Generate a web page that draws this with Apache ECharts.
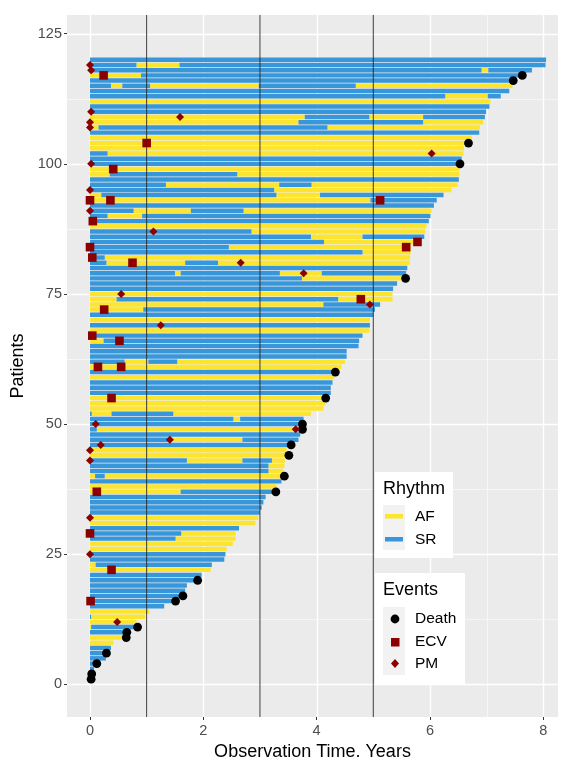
<!DOCTYPE html>
<html><head><meta charset="utf-8">
<script src="https://cdn.jsdelivr.net/npm/echarts@6/dist/echarts.min.js"></script>
<style>html,body{margin:0;padding:0;background:#fff}#c{width:565px;height:758px}</style>
</head><body><div id="c"></div>
<script>
// ---------- data ----------
const patientIds = [1,2,3,4,5,6,7,8,9,10,11,12,13,14,15,16,17,18,19,20,
 21,22,23,24,25,26,27,28,29,30,31,32,33,34,35,36,37,38,39,40,
 41,42,43,44,45,46,47,48,49,50,51,52,53,54,55,56,57,58,59,60,
 61,62,63,64,65,66,67,68,69,70,71,72,73,74,75,76,77,78,79,80,
 81,82,83,84,85,86,87,88,89,90,91,92,93,94,95,96,97,98,99,100,
 101,102,103,104,105,106,107,108,109,110,111,112,113,114,115,116,117,118,119,120];

const followUpYears = [0.03,0.04,0.07,0.12,0.28,0.29,0.37,0.41,0.64,0.65,
 0.82,0.82,0.97,1.05,1.31,1.50,1.63,1.68,1.71,1.90,
 1.97,2.13,2.15,2.37,2.39,2.41,2.52,2.57,2.57,2.63,
 2.92,2.97,3.00,3.03,3.06,3.10,3.22,3.29,3.38,3.41,
 3.41,3.43,3.44,3.46,3.47,3.52,3.68,3.71,3.72,3.74,
 3.77,3.90,4.12,4.15,4.15,4.25,4.25,4.28,4.31,4.33,
 4.44,4.50,4.53,4.53,4.74,4.75,4.81,4.93,4.94,4.94,
 5.00,5.03,5.12,5.34,5.34,5.35,5.42,5.52,5.58,5.60,
 5.64,5.65,5.66,5.66,5.82,5.90,5.92,5.94,5.98,6.01,
 6.03,6.07,6.12,6.24,6.38,6.49,6.51,6.52,6.52,6.50,
 6.56,6.59,6.60,6.66,6.74,6.87,6.88,6.94,6.97,6.99,
 7.05,7.07,7.25,7.40,7.46,7.44,7.59,7.80,8.04,8.05];

// rhythm at start of follow-up, then the times (years) at which it switches
const startRhythm = ['SR','SR','SR','SR','SR','SR','SR','AF','AF','SR',
 'AF','AF','SR','AF','SR','SR','SR','SR','SR','SR',
 'SR','AF','AF','SR','SR','AF','AF','SR','SR','SR',
 'AF','AF','SR','SR','SR','SR','AF','AF','SR','AF',
 'SR','SR','SR','AF','AF','SR','SR','SR','SR','SR',
 'SR','SR','AF','AF','AF','SR','SR','SR','AF','SR',
 'AF','SR','SR','SR','SR','AF','SR','AF','SR','AF',
 'SR','AF','AF','AF','AF','SR','SR','SR','SR','SR',
 'SR','SR','SR','SR','SR','SR','SR','AF','SR','SR',
 'SR','SR','AF','AF','SR','SR','SR','AF','AF','SR',
 'SR','SR','AF','AF','AF','SR','AF','AF','AF','SR',
 'SR','AF','SR','SR','SR','SR','AF','SR','SR','SR'];

const switchYears = [[],[],[],[],[],[],[],[],[],[],
 [0.02],[],[0.02],[],[],[],[],[],[],[],
 [],[],[0.10],[],[],[],[],[1.51],[1.61],[],
 [],[],[],[],[],[],[1.60],[],[],[0.09,0.26],
 [3.15],[3.15],[1.71,2.69,3.21],[],[],[],[1.41,2.69],[],[0.12],[],
 [2.53,2.65],[0.03,0.38,1.47],[],[],[],[],[],[],[],[],
 [],[0.61,1.03,1.54],[],[],[],[0.24],[],[],[],[],
 [],[0.94],[4.12],[0.47,4.38],[],[],[],[3.74],[1.50,1.60,3.35,4.09],[],
 [0.29,1.68,2.26],[0.26],[4.81],[2.45],[4.13],[3.90,4.81],[2.85],[],[],[0.31,0.92],
 [0.77,1.78,2.71],[],[4.95],[0.20,3.29,4.06],[3.25],[1.34,3.34,3.91],[],[0.35,2.60],[],[],
 [],[0.31],[],[],[],[],[0.15,4.19],[3.68,5.88],[3.79,4.93,5.88],[],
 [],[],[6.27,7.02],[],[0.37,0.57,1.06,2.98,4.69],[],[0.90],[6.91,7.03],[0.82,1.58],[]];

const deathPatient = [1,2,4,6,9,10,11,16,17,20,37,40,44,46,49,50,55,60,78,100,104,116,117];
const deathYears   = [0.02,0.03,0.12,0.29,0.64,0.65,0.84,1.51,1.64,1.90,3.28,3.43,3.51,3.55,3.75,3.75,4.16,4.33,5.57,6.53,6.68,7.47,7.63];

const ecvPatient = [16,22,29,37,55,61,61,66,67,72,74,81,82,84,84,85,89,93,93,93,99,104,117];
const ecvYears   = [0.01,0.38,0.00,0.12,0.38,0.14,0.55,0.52,0.04,0.25,4.78,0.75,0.04,0.00,5.58,5.78,0.05,0.00,0.36,5.12,0.41,1.00,0.24];

const pmPatient = [12,25,32,43,45,46,47,49,50,69,73,75,79,81,87,91,95,100,102,107,108,109,110,118,119];
const pmYears   = [0.48,0.00,0.00,0.00,0.00,0.19,1.41,3.63,0.10,1.25,4.94,0.55,3.77,2.66,1.12,0.00,0.00,0.02,6.03,0.00,0.00,1.59,0.02,0.02,0.00];

const xTicks = [0,2,4,6,8];
const xMinorTicks = [1,3,5,7];
const yTicks = [0,25,50,75,100,125];
const yMinorTicks = [12.5,37.5,62.5,87.5,112.5];
const refLineYears = [1,3,5];

// ---------- styles ----------
const FONT = "'Liberation Sans', Arial, sans-serif";
const AF_COL = '#FDE52F';
const SR_COL = '#3896DA';
const EVT_RED = '#8B0000';

// build rhythm segments from the arrays
const afSegments = [], srSegments = [];
patientIds.forEach((p, i) => {
  let state = startRhythm[i];
  let t0 = 0;
  switchYears[i].concat([followUpYears[i]]).forEach(t => {
    (state === 'AF' ? afSegments : srSegments).push([p, t0, t]);
    t0 = t;
    state = state === 'AF' ? 'SR' : 'AF';
  });
});

const gridData = [];
xTicks.forEach(v => gridData.push([v, 0, 1]));
xMinorTicks.forEach(v => gridData.push([v, 0, 0]));
yTicks.forEach(v => gridData.push([v, 1, 1]));
yMinorTicks.forEach(v => gridData.push([v, 1, 0]));

function barItem(params, api) {
  const p = api.value(0), s = api.value(1), e = api.value(2);
  const a = api.coord([s, p]), b = api.coord([e, p]);
  const h = api.size([0, 0.86])[1];
  return {
    type: 'rect',
    shape: { x: a[0], y: a[1] - h / 2, width: Math.max(b[0] - a[0], 0.6), height: h },
    style: { fill: api.visual('color') }
  };
}
function gridItem(params, api) {
  const v = api.value(0), ax = api.value(1), major = api.value(2);
  const cs = params.coordSys;
  let shape;
  if (ax === 0) {
    const x = Math.round(api.coord([v, 0])[0]) + 0.5;
    shape = { x1: x, y1: cs.y, x2: x, y2: cs.y + cs.height };
  } else {
    const y = Math.round(api.coord([0, v])[1]) + 0.5;
    shape = { x1: cs.x, y1: y, x2: cs.x + cs.width, y2: y };
  }
  return { type: 'line', silent: true, shape, style: { stroke: major ? '#FFFFFF' : '#F7F7F7', lineWidth: major ? 1.4 : 0.9 } };
}
function refItem(params, api) {
  const cs = params.coordSys;
  const x = api.coord([api.value(0), 0])[0];
  return { type: 'line', shape: { x1: x, y1: cs.y, x2: x, y2: cs.y + cs.height }, style: { stroke: '#262626', lineWidth: 0.9 } };
}

const chart = echarts.init(document.getElementById('c'), null, { renderer: 'canvas' });
chart.setOption({
  animation: false,
  backgroundColor: '#FFFFFF',
  textStyle: { fontFamily: FONT },
  grid: { left: 67, right: 7, top: 15, bottom: 41, show: true, backgroundColor: '#EBEBEB', borderWidth: 0, containLabel: false, outerBoundsMode: 'none' },
  xAxis: {
    type: 'value', min: -0.406, max: 8.26,
    axisLine: { show: false, onZero: false },
    axisTick: { show: true, customValues: xTicks, length: 3, lineStyle: { color: '#333333', width: 1 } },
    axisLabel: { customValues: xTicks, color: '#4D4D4D', fontSize: 14.5, margin: 6, fontFamily: FONT },
    splitLine: { show: false },
    name: 'Observation Time. Years', nameLocation: 'middle', nameGap: 23,
    nameTextStyle: { fontSize: 18, color: '#000000', fontFamily: FONT }
  },
  yAxis: {
    type: 'value', min: -6.27, max: 128.6,
    axisLine: { show: false, onZero: false },
    axisTick: { show: true, customValues: yTicks, length: 3, lineStyle: { color: '#333333', width: 1 } },
    axisLabel: { customValues: yTicks, color: '#4D4D4D', fontSize: 14.5, margin: 5, fontFamily: FONT },
    splitLine: { show: false },
    name: 'Patients', nameLocation: 'middle', nameGap: 31, nameRotate: 90,
    nameTextStyle: { fontSize: 18, color: '#000000', fontFamily: FONT }
  },
  series: [
    { type: 'custom', name: 'grid', z: 1, silent: true, clip: true, renderItem: gridItem, data: gridData,
      encode: { x: 0, y: 1 } },
    { type: 'custom', name: 'AF', z: 2, clip: true, renderItem: barItem, itemStyle: { color: AF_COL },
      encode: { x: [1, 2], y: 0 }, data: afSegments },
    { type: 'custom', name: 'SR', z: 2, clip: true, renderItem: barItem, itemStyle: { color: SR_COL },
      encode: { x: [1, 2], y: 0 }, data: srSegments },
    { type: 'custom', name: 'ref', z: 3, silent: true, clip: true, renderItem: refItem, data: refLineYears.map(v => [v, 0]) },
    { type: 'scatter', name: 'Death', z: 4, symbol: 'circle', symbolSize: 8.8, itemStyle: { color: '#000000', opacity: 1 },
      data: deathPatient.map((p, i) => [deathYears[i], p]) },
    { type: 'scatter', name: 'ECV', z: 4, symbol: 'rect', symbolSize: 8.6, itemStyle: { color: EVT_RED, opacity: 1 },
      data: ecvPatient.map((p, i) => [ecvYears[i], p]) },
    { type: 'scatter', name: 'PM', z: 4, symbol: 'diamond', symbolSize: 8, itemStyle: { color: EVT_RED, opacity: 1 },
      data: pmPatient.map((p, i) => [pmYears[i], p]) }
  ],
  graphic: [
    // Rhythm legend
    { type: 'rect', z: 50, shape: { x: 375, y: 472, width: 78, height: 86 }, style: { fill: '#FFFFFF' } },
    { type: 'text', z: 51, style: { x: 383, y: 489, text: 'Rhythm', fontSize: 18, fontFamily: FONT, fill: '#000', verticalAlign: 'middle' } },
    { type: 'rect', z: 51, shape: { x: 383, y: 505, width: 22, height: 45 }, style: { fill: '#F2F2F2' } },
    { type: 'rect', z: 52, shape: { x: 385, y: 514, width: 18, height: 4.5 }, style: { fill: AF_COL } },
    { type: 'rect', z: 52, shape: { x: 385, y: 537, width: 18, height: 4.5 }, style: { fill: SR_COL } },
    { type: 'text', z: 52, style: { x: 415, y: 517, text: 'AF', fontSize: 15.5, fontFamily: FONT, fill: '#000', verticalAlign: 'middle' } },
    { type: 'text', z: 52, style: { x: 415, y: 540, text: 'SR', fontSize: 15.5, fontFamily: FONT, fill: '#000', verticalAlign: 'middle' } },
    // Events legend
    { type: 'rect', z: 50, shape: { x: 375, y: 573, width: 90, height: 112 }, style: { fill: '#FFFFFF' } },
    { type: 'text', z: 51, style: { x: 383, y: 590, text: 'Events', fontSize: 18, fontFamily: FONT, fill: '#000', verticalAlign: 'middle' } },
    { type: 'rect', z: 51, shape: { x: 383, y: 607, width: 22, height: 68 }, style: { fill: '#F2F2F2' } },
    { type: 'circle', z: 52, shape: { cx: 395, cy: 619, r: 4.4 }, style: { fill: '#000000' } },
    { type: 'rect', z: 52, shape: { x: 391, y: 638, width: 8.5, height: 8.5 }, style: { fill: EVT_RED } },
    { type: 'polygon', z: 52, shape: { points: [[395, 659], [399, 663.5], [395, 668], [391, 663.5]] }, style: { fill: EVT_RED } },
    { type: 'text', z: 52, style: { x: 415, y: 619, text: 'Death', fontSize: 15.5, fontFamily: FONT, fill: '#000', verticalAlign: 'middle' } },
    { type: 'text', z: 52, style: { x: 415, y: 642, text: 'ECV', fontSize: 15.5, fontFamily: FONT, fill: '#000', verticalAlign: 'middle' } },
    { type: 'text', z: 52, style: { x: 415, y: 664, text: 'PM', fontSize: 15.5, fontFamily: FONT, fill: '#000', verticalAlign: 'middle' } }
  ]
});
</script>
</body></html>
